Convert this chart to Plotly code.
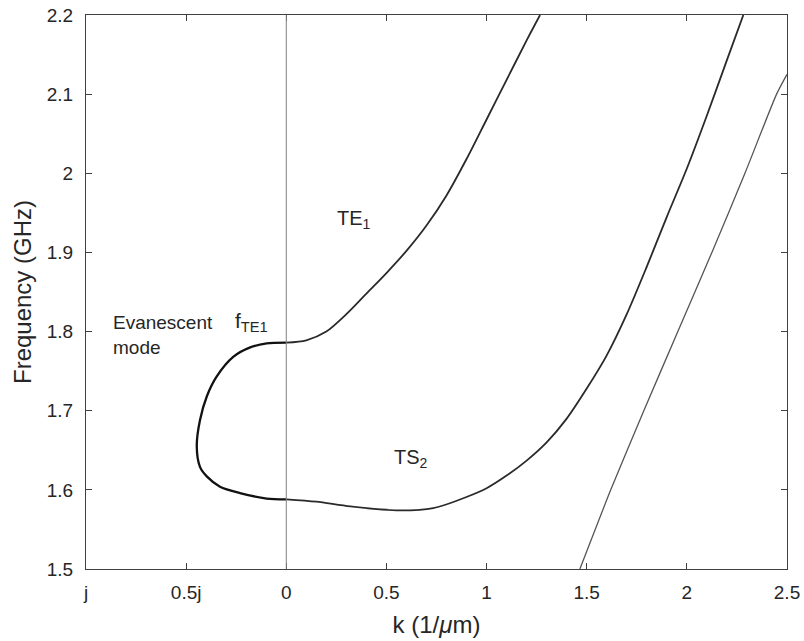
import plotly.graph_objects as go

# --- data (k: negative values = imaginary k, plotted on left) ---
# TE1 branch -> evanescent loop -> TS2 branch (one continuous dispersion curve)
k_te1 = [1.267, 1.200, 1.100, 1.000, 0.900, 0.800, 0.700, 0.600, 0.500, 0.400,
         0.300, 0.200, 0.100, 0.000]
f_te1 = [2.200, 2.168, 2.118, 2.068, 2.018, 1.972, 1.934, 1.902, 1.874, 1.848,
         1.822, 1.800, 1.789, 1.786]

k_loop = [0.000, -0.098, -0.180, -0.265, -0.348, -0.397, -0.431, -0.447, -0.431,
          -0.397, -0.331, -0.231, -0.098, 0.000]
f_loop = [1.786, 1.785, 1.780, 1.768, 1.743, 1.718, 1.688, 1.655, 1.629,
          1.617, 1.604, 1.596, 1.589, 1.588]

k_ts2 = [0.000, 0.150, 0.320, 0.568, 0.734, 0.900, 1.000, 1.100, 1.200, 1.300,
         1.400, 1.500, 1.600, 1.700, 1.800, 1.900, 2.000, 2.100, 2.200, 2.282]
f_ts2 = [1.588, 1.585, 1.579, 1.574, 1.577, 1.591, 1.602, 1.618, 1.637, 1.660,
         1.690, 1.728, 1.770, 1.822, 1.882, 1.945, 2.006, 2.073, 2.143, 2.200]

# third (higher-order) branch
k_3 = [1.466, 1.620, 1.785, 1.955, 2.125, 2.290, 2.448, 2.500]
f_3 = [1.500, 1.600, 1.700, 1.800, 1.900, 2.000, 2.100, 2.125]

x_tickvals = [-1, -0.5, 0, 0.5, 1, 1.5, 2, 2.5]
x_ticktext = ["j", "0.5j", "0", "0.5", "1", "1.5", "2", "2.5"]
y_tickvals = [1.5, 1.6, 1.7, 1.8, 1.9, 2.0, 2.1, 2.2]
y_ticktext = ["1.5", "1.6", "1.7", "1.8", "1.9", "2", "2.1", "2.2"]

FONT = "Liberation Sans, Arial, Helvetica, sans-serif"
TXT = "#262626"
AX = "#404040"

fig = go.Figure()
fig.add_trace(go.Scatter(x=k_te1, y=f_te1, mode="lines",
                         line=dict(color="#2a2a2a", width=1.8, shape="spline", smoothing=0.8),
                         showlegend=False, hoverinfo="skip"))
fig.add_trace(go.Scatter(x=k_loop, y=f_loop, mode="lines",
                         line=dict(color="#111111", width=2.3, shape="spline", smoothing=0.8),
                         showlegend=False, hoverinfo="skip"))
fig.add_trace(go.Scatter(x=k_ts2, y=f_ts2, mode="lines",
                         line=dict(color="#2a2a2a", width=1.8, shape="spline", smoothing=0.8),
                         showlegend=False, hoverinfo="skip"))
fig.add_trace(go.Scatter(x=k_3, y=f_3, mode="lines",
                         line=dict(color="#555555", width=1.3, shape="spline", smoothing=0.6),
                         showlegend=False, hoverinfo="skip"))

fig.add_vline(x=0, line=dict(color="#808080", width=1))

ann_font = dict(family=FONT, size=20, color=TXT)
fig.add_annotation(x=0.245, y=1.942, xref="x", yref="y", text="TE<sub>1</sub>", showarrow=False,
                   xanchor="left", yanchor="middle", font=ann_font)
fig.add_annotation(x=0.530, y=1.640, xref="x", yref="y", text="TS<sub>2</sub>", showarrow=False,
                   xanchor="left", yanchor="middle", font=ann_font)
fig.add_annotation(x=-0.265, y=1.812, xref="x", yref="y", text="f<sub>TE1</sub>", showarrow=False,
                   xanchor="left", yanchor="middle", font=dict(family=FONT, size=21, color=TXT))
fig.add_annotation(x=-0.875, y=1.796, xref="x", yref="y", text="Evanescent<br>mode", showarrow=False,
                   xanchor="left", yanchor="middle", align="left", font=dict(family=FONT, size=19, color=TXT))

# plot area in page coords: x 86..787, y 15..569 (body margin removed below)
fig.update_layout(
    width=804, height=641,
    margin=dict(l=86, r=17, t=15, b=72),
    paper_bgcolor="white", plot_bgcolor="white",
    font=dict(family=FONT, size=19, color=TXT),
    xaxis=dict(range=[-1, 2.5], tickvals=x_tickvals, ticktext=x_ticktext,
               ticks="inside", ticklen=6, tickcolor=AX, tickwidth=1,
               showline=True, linecolor=AX, linewidth=1, mirror="ticks",
               showgrid=False, zeroline=False, ticklabelstandoff=6,
               ticklabeloverflow="allow",
               title=dict(text="k (1/<i>μ</i>m)", standoff=14, font=dict(size=24)),
               automargin=False),
    yaxis=dict(range=[1.5, 2.2], tickvals=y_tickvals, ticktext=y_ticktext,
               ticks="inside", ticklen=6, tickcolor=AX, tickwidth=1,
               showline=True, linecolor=AX, linewidth=1, mirror="ticks",
               showgrid=False, zeroline=False, ticklabelstandoff=8,
               ticklabeloverflow="allow",
               title=dict(text="Frequency (GHz)", standoff=8, font=dict(size=24)),
               automargin=False),
)

fig.write_html("out.html", config={"displayModeBar": False},
               post_script="document.body.style.margin='0';document.body.style.overflow='hidden';")
